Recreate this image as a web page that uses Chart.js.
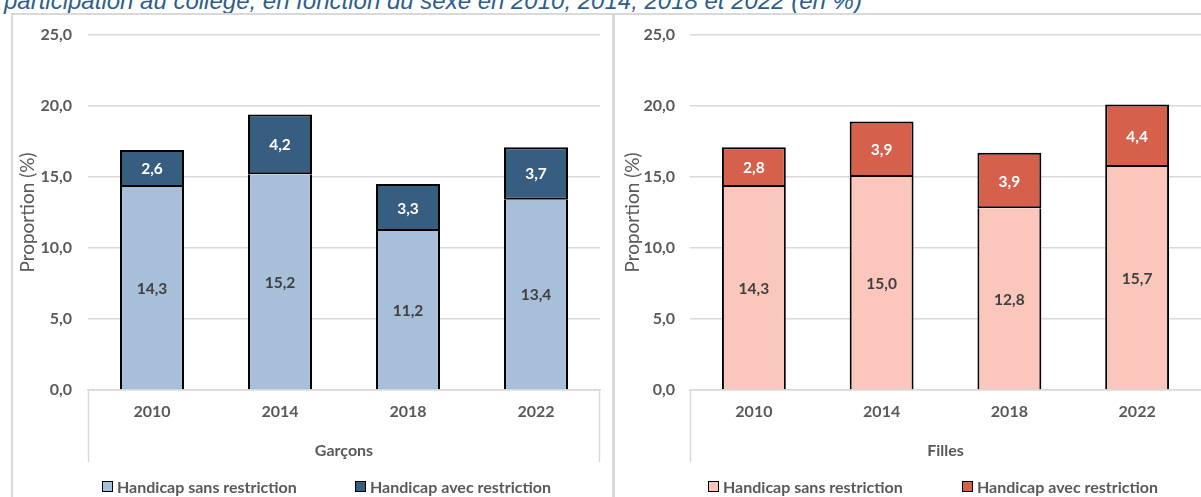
<!DOCTYPE html>
<html><head><meta charset="utf-8">
<script src="https://cdn.jsdelivr.net/npm/chart.js@4.4.0/dist/chart.umd.min.js"></script>
<style>
html,body{margin:0;padding:0;background:#fff;width:1201px;height:497px;overflow:hidden;position:relative;font-family:Lato,sans-serif;}
#title{position:absolute;left:4px;top:-11px;font:italic 24px "Liberation Sans",Arial,sans-serif;color:#2E5E8C;white-space:nowrap;line-height:24px;}
.ln{position:absolute;background:#D9D9D9;}
canvas{position:absolute;}
.lg{position:absolute;font:bold 16px Lato,sans-serif;color:#595959;white-space:nowrap;line-height:16px;}
.lg i{position:absolute;width:9px;height:9px;border:1.5px solid #000;top:2px;}
</style></head>
<body>
<div id="title">participation au collège, en fonction du sexe en 2010, 2014, 2018 et 2022 (en %)</div>
<div class="ln" style="left:11px;top:13px;width:1190px;height:2px;"></div>
<div class="ln" style="left:11px;top:13px;width:2px;height:484px;"></div>
<div class="ln" style="left:612px;top:13px;width:3px;height:484px;"></div>
<canvas id="c1" width="598" height="482" style="left:13px;top:15px;width:598px;height:482px;"></canvas>
<canvas id="c2" width="585" height="482" style="left:616px;top:15px;width:585px;height:482px;"></canvas>
<div id="lg1"></div>
<div id="lg2"></div>
<script>
const categories = ['2010', '2014', '2018', '2022'];
const seriesNames = ['Handicap sans restriction', 'Handicap avec restriction'];
const garconsSans = [14.3, 15.2, 11.2, 13.4];
const garconsAvec = [2.6, 4.2, 3.3, 3.7];
const fillesSans = [14.3, 15.0, 12.8, 15.7];
const fillesAvec = [2.8, 3.9, 3.9, 4.4];
const yTicks = [0, 5, 10, 15, 20, 25];
const panelTitles = ['Garçons', 'Filles'];

const fmt = v => v.toFixed(1).replace('.', ',');
const GREY = '#595959';

const barLabels = {
  id: 'barLabels',
  afterDatasetsDraw(chart) {
    const ctx = chart.ctx;
    ctx.save();
    ctx.font = 'bold 15.5px Lato, sans-serif';
    ctx.textAlign = 'center';
    ctx.textBaseline = 'middle';
    chart.data.datasets.forEach((ds, di) => {
      const meta = chart.getDatasetMeta(di);
      meta.data.forEach((el, i) => {
        ctx.fillStyle = ds.labelColor;
        ctx.fillText(fmt(ds.data[i]), el.x, (el.y + el.base) / 2 + 1);
      });
    });
    ctx.restore();
  }
};
const catBox = {
  id: 'catBox',
  afterDraw(chart) {
    const x = chart.scales.x, ctx = chart.ctx;
    ctx.save();
    ctx.strokeStyle = '#D9D9D9';
    ctx.lineWidth = 1.5;
    ctx.beginPath();
    ctx.moveTo(x.left + 0.5, chart.chartArea.bottom);
    ctx.lineTo(x.left + 0.5, x.bottom);
    if (x.right < chart.width - 2) {
      ctx.moveTo(x.right - 0.5, chart.chartArea.bottom);
      ctx.lineTo(x.right - 0.5, x.bottom);
    }
    ctx.stroke();
    ctx.restore();
  }
};

function makeChart(id, sans, avec, light, dark, groupTitle, yw, tickPad, yTitlePad, padRight) {
  return new Chart(document.getElementById(id), {
    type: 'bar',
    data: {
      labels: categories,
      datasets: [
        {label: seriesNames[0], data: sans, backgroundColor: light, borderColor: '#000',
         borderWidth: {left: 2, right: 2, top: 0, bottom: 0}, borderSkipped: false, labelColor: '#404040'},
        {label: seriesNames[1], data: avec, backgroundColor: dark, borderColor: '#000',
         borderWidth: {left: 2, right: 2, top: 2, bottom: 2}, borderSkipped: false, labelColor: '#ffffff'}
      ]
    },
    options: {
      responsive: false, animation: false,
      layout: {padding: {left: 0, right: padRight, top: 20, bottom: 35}},
      plugins: {legend: {display: false}, tooltip: {enabled: false}, title: {display: false}},
      datasets: {bar: {barPercentage: 0.5, categoryPercentage: 1.0}},
      scales: {
        x: {
          stacked: true,
          grid: {display: false, drawTicks: false},
          border: {display: true, color: '#D9D9D9', width: 1.5},
          ticks: {color: GREY, font: {family: 'Lato', weight: 'bold', size: 16}, padding: 12},
          title: {display: true, text: groupTitle, color: GREY, font: {family: 'Lato', weight: 'bold', size: 16}, padding: {top: 0, bottom: 2}},
          afterFit: s => { s.height = 72; s.paddingLeft = 0; s.paddingRight = 0; }
        },
        y: {
          stacked: true, min: 0, max: 25,
          afterBuildTicks: s => { s.ticks = yTicks.map(v => ({value: v})); },
          grid: {color: '#D9D9D9', lineWidth: 1.5, drawTicks: false},
          border: {display: false},
          ticks: {color: GREY, font: {family: 'Lato', weight: 'bold', size: 16}, padding: tickPad, callback: v => fmt(v)},
          title: {display: true, text: 'Proportion (%)', color: GREY, font: {family: 'Lato', size: 19}, padding: {top: yTitlePad, bottom: 0}},
          afterFit: s => { s.width = yw; s.paddingTop = 0; s.paddingBottom = 0; }
        }
      }
    },
    plugins: [barLabels, catBox]
  });
}

makeChart('c1', garconsSans, garconsAvec, '#A7BFD8', '#375D81', panelTitles[0], 75, 16, 3, 11);
makeChart('c2', fillesSans, fillesAvec, '#FBC6BC', '#D5604B', panelTitles[1], 74, 15, 5, 0);

function legend(id, items) {
  const host = document.getElementById(id);
  items.forEach(it => {
    const d = document.createElement('div');
    d.className = 'lg';
    d.style.left = it.x + 'px';
    d.style.top = '479px';
    d.style.paddingLeft = '15px';
    const b = document.createElement('i');
    b.style.left = '0px';
    b.style.background = it.color;
    d.appendChild(b);
    d.appendChild(document.createTextNode(it.text));
    host.appendChild(d);
  });
}
legend('lg1', [{x: 102, text: seriesNames[0], color: '#A7BFD8'}, {x: 355, text: seriesNames[1], color: '#375D81'}]);
legend('lg2', [{x: 708, text: seriesNames[0], color: '#FBC6BC'}, {x: 962, text: seriesNames[1], color: '#D5604B'}]);
</script>
</body></html>
